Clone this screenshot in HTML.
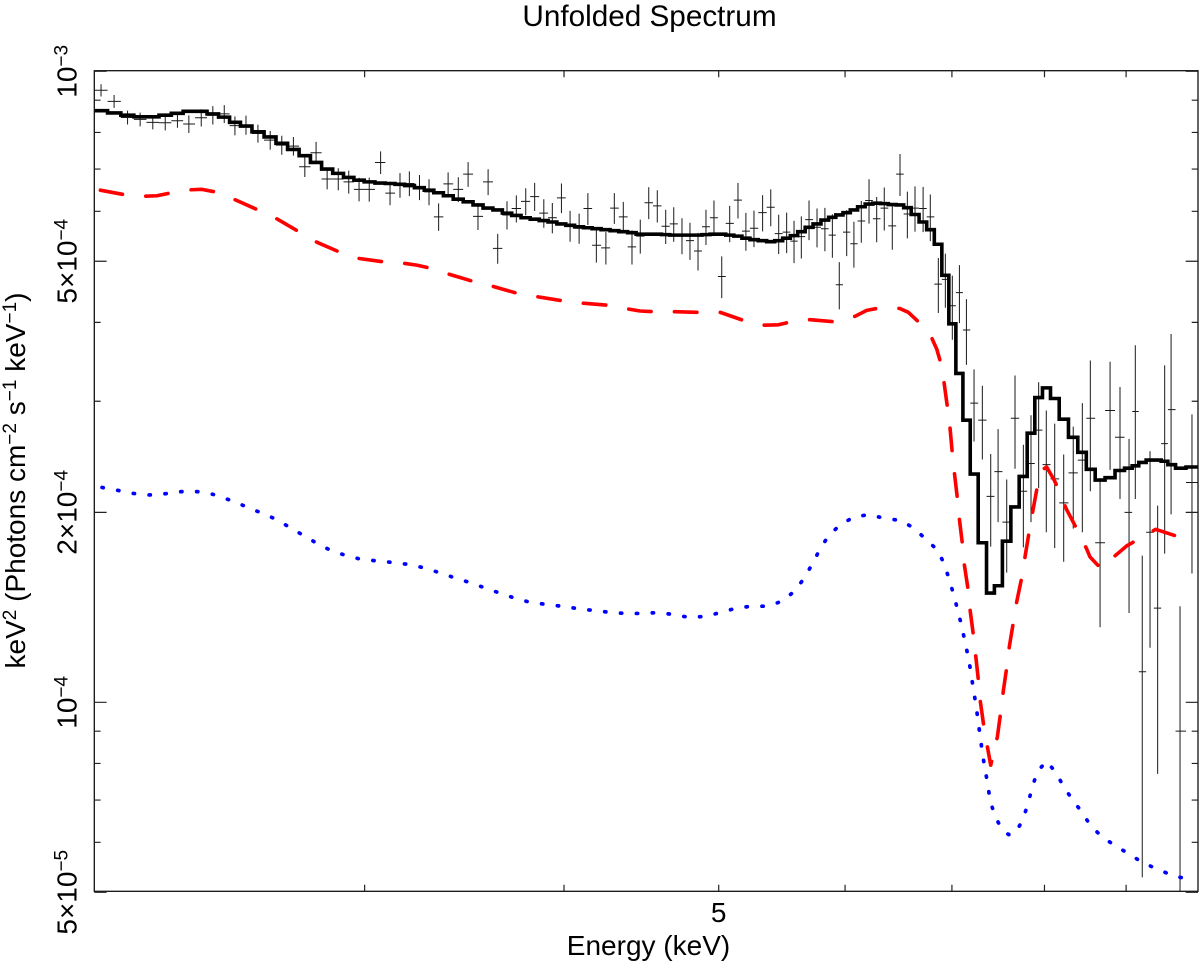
<!DOCTYPE html>
<html>
<head>
<meta charset="utf-8">
<title>Unfolded Spectrum</title>
<style>
html,body{margin:0;padding:0;background:#fff;}
svg{display:block;}
text{font-family:"Liberation Sans",Arial,sans-serif;fill:#000;}
</style>
</head>
<body>
<svg id="chart" xmlns="http://www.w3.org/2000/svg" width="1200" height="966" viewBox="0 0 1200 966">
  <defs><clipPath id="plot-clip"><rect x="94.3" y="70.7" width="1103.7" height="820.6"/></clipPath></defs>
  <rect x="0" y="0" width="1200" height="966" fill="#fff"/>
  <text x="649.5" y="26" font-size="29.7" text-anchor="middle">Unfolded Spectrum</text>
  <text x="648.5" y="955" font-size="28" text-anchor="middle">Energy (keV)</text>
  <text transform="translate(25,480.5) rotate(-90)" font-size="28" text-anchor="middle">keV<tspan font-size="19" dy="-9">2</tspan><tspan dy="9"> (Photons cm</tspan><tspan font-size="19" dy="-9">−2</tspan><tspan dy="9"> s</tspan><tspan font-size="19" dy="-9">−1</tspan><tspan dy="9"> keV</tspan><tspan font-size="19" dy="-9">−1</tspan><tspan dy="9">)</tspan></text>
  <g id="data-layer" clip-path="url(#plot-clip)"></g>
  <g id="model-layer" clip-path="url(#plot-clip)"></g>
  <g id="axis-layer"></g>
</svg>
<script>
// Energies in keV; fluxes in units of 1e-4 photons cm^-2 s^-1 keV^-1 x keV^2
const dataEnergy = [
2.051,2.09,2.131,2.17,2.21,2.25,2.29,2.328,2.37,2.41,
2.45,2.488,2.528,2.572,2.618,2.662,2.707,2.752,2.797,2.842,
2.888,2.932,2.976,3.02,3.07,3.112,3.157,3.2,3.247,3.292,
3.338,3.384,3.434,3.483,3.533,3.585,3.635,3.684,3.734,3.785,
3.834,3.885,3.933,3.985,4.035,4.088,4.14,4.191,4.249,4.301,
4.357,4.412,4.465,4.52,4.576,4.632,4.686,4.742,4.797,4.853,
4.909,4.966,5.022,5.08,5.141,5.2,5.261,5.327,5.39,5.452,
5.515,5.574,5.633,5.696,5.762,5.828,5.891,5.95,6.014,6.077,
6.142,6.211,6.28,6.349,6.423,6.495,6.564,6.637,6.715,6.785,
6.864,6.934,7.004,7.076,7.148,7.227,7.314,7.403,7.482,7.576,
7.667,7.76,7.846,7.933,8.021,8.119,8.225,8.339,8.449,8.547,
8.668,8.794,8.921,9.038,9.12,9.212,9.316,9.419,9.515,9.603,9.728,9.897];
const dataFlux = [
9.33,8.96,8.45,8.39,8.30,8.29,8.35,8.25,8.44,8.52,
8.56,8.20,8.22,7.97,7.78,7.64,7.61,7.06,7.43,6.75,
6.75,6.68,6.50,6.50,7.17,6.41,6.60,6.64,6.55,6.44,
5.88,6.63,6.50,6.87,5.89,6.68,5.24,5.92,6.06,6.22,
6.33,5.96,5.86,6.30,5.69,5.64,6.06,5.30,5.25,6.07,
5.88,5.27,5.48,6.19,6.12,5.68,5.73,5.49,5.39,5.19,
5.67,5.86,4.73,5.74,6.25,5.58,5.64,5.97,6.09,5.53,
5.56,5.38,5.47,5.82,5.66,5.63,5.50,4.59,5.56,5.33,
5.79,6.24,5.84,6.07,5.69,6.87,5.94,6.07,6.06,5.88,
4.60,4.68,4.25,4.46,3.89,2.98,2.80,2.12,2.32,1.93,
2.82,2.16,2.39,2.70,2.38,2.26,2.07,2.31,2.42,2.82,
1.79,2.90,2.63,2.00,2.89,1.118,1.86,1.41,2.57,2.91,0.90,2.23];
const dataError = [
.21,.21,.215,.21,.21,.23,.21,.265,.265,.285,
.28,.285,.285,.26,.265,.265,.26,.26,.30,.25,
.27,.28,.28,.285,.295,.275,.295,.30,.30,.305,
.295,.285,.295,.31,.285,.315,.285,.305,.30,.305,
.325,.31,.325,.34,.32,.31,.35,.325,.31,.34,
.33,.33,.34,.36,.36,.355,.36,.36,.365,.355,
.365,.38,.36,.38,.405,.385,.375,.395,.41,.395,
.41,.415,.42,.42,.40,.445,.435,.395,.465,.445,
.44,.505,.48,.475,.475,.525,.505,.50,.50,.50,
.46,.46,.495,.47,.465,.39,.375,.355,.39,.325,
.475,.40,.46,.515,.52,.505,.40,.425,.56,.66,
.475,.565,.53,.615,.79,.59,.64,.64,.85,.925,.52,.63];
const modelFlux = [
8.66,8.59,8.52,8.47,8.47,8.52,8.58,8.64,8.64,8.56,
8.46,8.30,8.19,8.02,7.87,7.69,7.52,7.35,7.17,7.00,
6.89,6.79,6.72,6.68,6.65,6.64,6.62,6.59,6.54,6.48,
6.42,6.35,6.27,6.21,6.14,6.07,6.03,5.96,5.91,5.86,
5.83,5.80,5.77,5.73,5.70,5.67,5.65,5.63,5.61,5.59,
5.57,5.55,5.52,5.52,5.52,5.51,5.50,5.50,5.50,5.50,
5.51,5.52,5.52,5.50,5.48,5.44,5.41,5.39,5.37,5.39,
5.44,5.49,5.57,5.66,5.73,5.81,5.87,5.92,5.97,6.03,
6.10,6.16,6.18,6.17,6.15,6.14,6.08,5.93,5.77,5.61,
5.32,4.75,3.98,3.32,2.80,2.30,1.79,1.49,1.53,1.80,
2.04,2.28,2.67,3.04,3.15,3.03,2.81,2.63,2.49,2.34,
2.25,2.27,2.33,2.35,2.37,2.40,2.42,2.42,2.41,2.38,2.35,2.36];
const redEnergy = [
2.049,2.118,2.186,2.223,2.264,2.334,2.372,2.418,2.488,2.572,2.642,2.725,2.8,2.888,2.977,3.082,3.18,3.234,3.292,3.388,
3.504,3.612,3.736,3.854,3.987,4.113,4.255,4.388,4.464,4.545,4.688,4.857,5.01,5.08,5.18,5.34,5.45,5.53,5.704,5.905,
6.087,6.19,6.286,6.49,6.573,6.676,6.802,6.848,6.881,6.92,6.954,6.98,7.004,7.025,7.056,7.076,7.107,7.127,7.165,7.186,
7.22,7.245,7.272,7.293,7.329,7.367,7.403,7.474,7.51,7.538,7.576,7.605,7.649,7.687,7.743,7.78,7.825,7.866,7.917,7.983,
8.025,8.113,8.16,8.252,8.393,8.502,8.543,8.677,8.889,9.008,9.149,9.392,9.704];
const redFlux = [
6.48,6.38,6.34,6.35,6.41,6.49,6.50,6.44,6.26,6.03,5.84,5.58,5.36,5.18,5.05,4.99,4.96,4.93,4.88,4.77,
4.65,4.56,4.45,4.39,4.33,4.29,4.26,4.20,4.17,4.16,4.16,4.15,4.15,4.10,4.03,3.96,3.965,4.00,4.04,4.01,
4.09,4.18,4.21,4.21,4.15,4.00,3.77,3.63,3.48,3.22,2.94,2.73,2.48,2.31,2.10,1.95,1.78,1.65,1.51,1.40,
1.278,1.183,1.085,1.003,.917,.851,.795,.881,.963,1.04,1.136,1.227,1.34,1.446,1.579,1.705,1.863,2.008,2.194,2.34,
2.36,2.25,2.18,2.03,1.87,1.75,1.70,1.63,1.72,1.77,1.81,1.88,1.83];
const blueEnergy = [
2.054,2.101,2.149,2.199,2.252,2.303,2.357,2.41,2.465,2.519,2.573,2.628,2.682,2.736,2.79,2.85,2.911,2.976,3.046,3.116,3.189,
3.264,3.334,3.409,3.486,3.564,3.642,3.721,3.806,3.893,3.985,4.078,4.173,4.268,4.37,4.473,4.576,4.683,4.79,4.902,5.015,5.126,
5.244,5.367,5.485,5.584,5.66,5.726,5.786,5.858,5.958,6.078,6.214,6.356,6.502,6.628,6.744,6.858,6.925,6.974,7.02,7.06,7.1,7.134,
7.168,7.196,7.22,7.248,7.269,7.293,7.314,7.342,7.371,7.396,7.446,7.521,7.596,7.675,7.759,7.812,7.86,7.913,8.021,8.138,8.225,8.335,
8.449,8.556,8.701,8.873,9.05,9.226,9.42,9.626,9.84];
const blueFlux = [
2.19,2.167,2.143,2.131,2.141,2.157,2.157,2.136,2.095,2.05,2.005,1.96,1.905,1.849,1.796,1.746,1.713,1.688,1.676,1.667,1.655,
1.635,1.608,1.578,1.55,1.52,1.491,1.464,1.441,1.43,1.42,1.408,1.398,1.389,1.383,1.383,1.387,1.378,1.363,1.368,1.388,1.41,
1.42,1.42,1.448,1.504,1.577,1.661,1.748,1.836,1.911,1.967,1.984,1.955,1.942,1.887,1.811,1.742,1.653,1.563,1.477,1.396,1.32,1.246,
1.177,1.112,1.048,.989,.934,.881,.831,.785,.741,.70,.661,.63,.617,.621,.654,.692,.732,.774,.807,.773,.734,.70,
.668,.636,.611,.591,.574,.556,.544,.531,.525];
const xTickValues = [3,4,5,6,7,8,9];
const xTickLabels = ['','','5','','','',''];
const yMajorValues = [10,5,2,1,0.5];
const yMajorMantissa = ['','5×','2×','','5×'];
const yMajorExponent = ['−3','−4','−4','−4','−5'];
const yMinorValues = [9,8,7,6,4,3,0.9,0.8,0.7,0.6];

const NS = 'http://www.w3.org/2000/svg';
const plotLeft = 94.3, plotRight = 1198, plotTop = 70.7, plotBottom = 891.3;
function xScale(energy){ return 718.7 + 1596 * Math.log10(energy / 5); }
function yScale(flux){ return 702.3 - 631 * Math.log10(flux); }
function make(tag, attrs){
  const el = document.createElementNS(NS, tag);
  for (const k in attrs) el.setAttribute(k, attrs[k]);
  return el;
}
const dataLayer = document.getElementById('data-layer');
const modelLayer = document.getElementById('model-layer');
const axisLayer = document.getElementById('axis-layer');

// bin edges in pixel space from neighbouring energies
const centers = dataEnergy.map(xScale);
const edges = [];
edges.push(centers[0] - (centers[1] - centers[0]) / 2);
for (let i = 0; i < centers.length - 1; i++) edges.push((centers[i] + centers[i + 1]) / 2);
edges.push(centers[centers.length - 1] + (centers[centers.length - 1] - centers[centers.length - 2]) / 2);

// data crosses
dataEnergy.forEach(function(energy, i){
  const cx = centers[i];
  const cy = yScale(dataFlux[i]);
  const low = Math.max(dataFlux[i] - dataError[i], 0.3);
  const d = 'M' + edges[i].toFixed(2) + ' ' + cy.toFixed(2) + 'H' + edges[i + 1].toFixed(2) +
            'M' + cx.toFixed(2) + ' ' + yScale(dataFlux[i] + dataError[i]).toFixed(2) + 'V' + yScale(low).toFixed(2);
  const p = make('path', {d: d, fill: 'none', stroke: '#1a1a1a', 'stroke-width': '1'});
  
  
  dataLayer.appendChild(p);
});

// stepped total model
let stepPath = '';
modelFlux.forEach(function(flux, i){
  const y = yScale(flux).toFixed(2);
  stepPath += (i === 0 ? 'M' : 'L') + edges[i].toFixed(2) + ' ' + y + 'L' + edges[i + 1].toFixed(2) + ' ' + y;
});
const stepLine = make('path', {d: stepPath, fill: 'none', stroke: '#000', 'stroke-width': '3.6', 'stroke-linejoin': 'miter'});


modelLayer.appendChild(stepLine);

function linePath(xs, ys){
  return xs.map(function(e, i){ return (i === 0 ? 'M' : 'L') + xScale(e).toFixed(2) + ' ' + yScale(ys[i]).toFixed(2); }).join('');
}
const redLine = make('path', {d: linePath(redEnergy, redFlux), fill: 'none', stroke: '#ff0000', 'stroke-width': '3.6', 'stroke-linecap': 'round', 'stroke-linejoin': 'round', 'stroke-dasharray': '22.5 23.35'});


modelLayer.appendChild(redLine);

const blueLine = make('path', {d: linePath(blueEnergy, blueFlux), fill: 'none', stroke: '#0000ff', 'stroke-width': '3.7', 'stroke-linecap': 'round', 'stroke-linejoin': 'round', 'stroke-dasharray': '1.2 14.7'});


modelLayer.appendChild(blueLine);

// frame
const frame = make('rect', {x: plotLeft, y: plotTop, width: plotRight - plotLeft, height: plotBottom - plotTop, fill: 'none', stroke: '#111', 'stroke-width': '1.3'});


axisLayer.appendChild(frame);

// x ticks
xTickValues.forEach(function(value, i){
  const x = xScale(value).toFixed(2);
  const t = make('path', {d: 'M' + x + ' ' + plotBottom + 'v-6.5M' + x + ' ' + plotTop + 'v6.5', stroke: '#222', 'stroke-width': '1.2', fill: 'none'});
  
  
  axisLayer.appendChild(t);
  if (xTickLabels[i]) {
    const label = make('text', {x: x, y: 922, 'font-size': '28', 'text-anchor': 'middle'});
    
    
    label.textContent = xTickLabels[i];
    axisLayer.appendChild(label);
  }
});

// y ticks
function yTick(value, len){
  const y = yScale(value).toFixed(2);
  const t = make('path', {d: 'M' + plotLeft + ' ' + y + 'h' + len + 'M' + plotRight + ' ' + y + 'h-' + len, stroke: '#222', 'stroke-width': '1.2', fill: 'none'});
  
  
  axisLayer.appendChild(t);
}
yMinorValues.forEach(function(v){ yTick(v, 6.3); });
yMajorValues.forEach(function(v, i){
  yTick(v, 12.3);
  const label = make('text', {transform: 'translate(76.7,' + yScale(v).toFixed(2) + ') rotate(-90)', 'font-size': '28', 'text-anchor': 'middle'});
  
  
  label.appendChild(document.createTextNode(yMajorMantissa[i] + '10'));
  const sup = make('tspan', {'font-size': '19', dy: '-9'});
  sup.textContent = yMajorExponent[i];
  label.appendChild(sup);
  axisLayer.appendChild(label);
});
</script>
</body>
</html>
